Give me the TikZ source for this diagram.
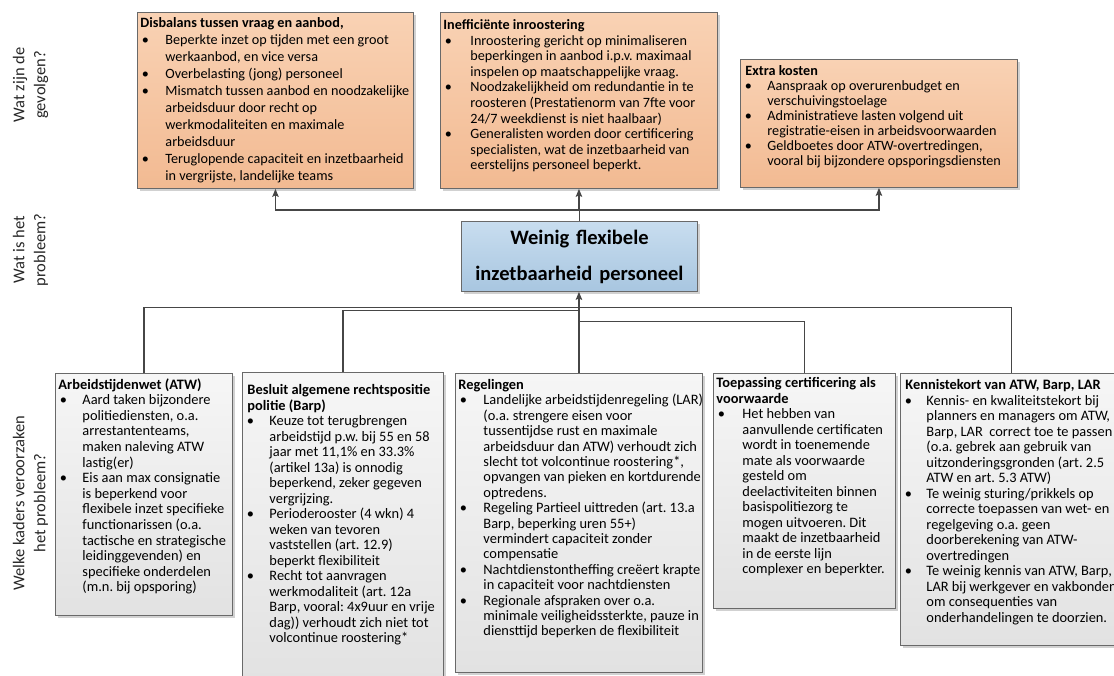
\documentclass[tikz,border=0pt]{standalone}
\usepackage{fontspec}
\setmainfont{Carlito}
\usetikzlibrary{arrows.meta,shadows}
\definecolor{orT}{RGB}{249,210,180}
\definecolor{orB}{RGB}{242,186,146}
\definecolor{blT}{RGB}{200,221,239}
\definecolor{blB}{RGB}{168,198,224}
\definecolor{grT}{RGB}{246,246,246}
\definecolor{grB}{RGB}{226,226,226}
\definecolor{boxline}{RGB}{105,105,105}
\definecolor{connc}{RGB}{70,70,70}
\newlength\bh
\newcommand\nwl{\newline}
\newcommand\boxtxt[4]{\parbox[c][#2][t]{#1}{#3\frenchspacing\hyphenpenalty=10000\exhyphenpenalty=10000\parindent=0pt\leftskip=0pt\rightskip=-10pt plus 1fil\relax #4}}
\newcommand\bitem[1]{\par\hangindent=\bh\hangafter=1\noindent\makebox[\bh][l]{\hspace{1.5pt}\textbullet}#1\par}
\tikzset{
  box/.style={draw=boxline, line width=0.9pt, anchor=north west, inner xsep=3pt, inner ysep=3pt,
    drop shadow={shadow xshift=2.5pt, shadow yshift=-2.5pt, fill=black!40, opacity=0.45}},
  topbox/.style={box, top color=orT, bottom color=orB},
  botbox/.style={box, top color=grT, bottom color=grB},
  probbox/.style={box, top color=blT, bottom color=blB, minimum width=236pt, minimum height=70pt,
    text width=230pt, align=center, font=\fontsize{20.5}{36}\selectfont\bfseries\frenchspacing},
  conn/.style={draw=connc, line width=1.1pt},
  arr/.style={conn, -{Stealth[length=8pt,width=6.5pt,inset=1.5pt]}},
  sidelabel/.style={rotate=90, align=center, font=\fontsize{16.5}{21}\selectfont, text=black!85},
}
\begin{document}
\begin{tikzpicture}[x=1pt,y=-1pt]
\useasboundingbox (0,0) rectangle (1114,675);

% side labels
\node[sidelabel] (l1) at (30.5,85) {Wat zijn de\\gevolgen?};
\node[sidelabel] (l2) at (30.5,250) {Wat is het\\probleem?};
\node[sidelabel] (l3) at (30.5,503) {Welke kaders veroorzaken\\het probleem?};

% top boxes
\node[topbox] (t1) at (137,12) {\boxtxt{270pt}{170pt}{\fontsize{14.2}{17}\selectfont\setlength\bh{25pt}}{%
\vspace*{2pt}\textbf{Disbalans tussen vraag en aanbod,}\par
\bitem{Beperkte inzet op tijden met een groot\nwl werkaanbod, en vice versa}
\bitem{Overbelasting (jong) personeel}
\bitem{Mismatch tussen aanbod en noodzakelijke\nwl arbeidsduur door recht op\nwl werkmodaliteiten en maximale\nwl arbeidsduur}
\bitem{Teruglopende capaciteit en inzetbaarheid\nwl in vergrijste, landelijke teams}}};

\node[topbox] (t2) at (440,12) {\boxtxt{271pt}{170pt}{\fontsize{14.2}{15.6}\selectfont\setlength\bh{27pt}}{%
\vspace*{4pt}\textbf{Inefficiënte inroostering}\par
\bitem{Inroostering gericht op minimaliseren\nwl beperkingen in aanbod i.p.v. maximaal\nwl inspelen op maatschappelijke vraag.}
\bitem{Noodzakelijkheid om redundantie in te\nwl roosteren (Prestatienorm van 7fte voor\nwl 24/7 weekdienst is niet haalbaar)}
\bitem{Generalisten worden door certificering\nwl specialisten, wat de inzetbaarheid van\nwl eerstelijns personeel beperkt.}}};

\node[topbox] (t3) at (740,59) {\boxtxt{271pt}{122pt}{\fontsize{14.2}{15}\selectfont\setlength\bh{24pt}}{%
\vspace*{3pt}\hspace*{2pt}\textbf{Extra kosten}\par
\bitem{Aanspraak op overurenbudget en\nwl verschuivingstoelage}
\bitem{Administratieve lasten volgend uit\nwl registratie-eisen in arbeidsvoorwaarden}
\bitem{Geldboetes door ATW-overtredingen,\nwl vooral bij bijzondere opsporingsdiensten}}};

% central problem
\node[probbox] (c) at (461,221) {Weinig flexibele\\inzetbaarheid personeel};

% bottom boxes
\node[botbox] (b1) at (55,373) {\boxtxt{171pt}{236pt}{\fontsize{14.4}{15.6}\selectfont\setlength\bh{24pt}}{%
\vspace*{2pt}\textbf{Arbeidstijdenwet (ATW)}\par
\bitem{Aard taken bijzondere\nwl politiediensten, o.a.\nwl arrestantenteams,\nwl maken naleving ATW\nwl lastig(er)}
\bitem{Eis aan max consignatie\nwl is beperkend voor\nwl flexibele inzet specifieke\nwl functionarissen (o.a.\nwl tactische en strategische\nwl leidinggevenden) en\nwl specifieke onderdelen\nwl (m.n. bij opsporing)}}};

\node[botbox] (b2) at (242,372) {\boxtxt{195pt}{302pt}{\fontsize{14.4}{15.5}\selectfont\setlength\bh{24pt}}{%
\vspace*{9pt}\hspace*{2pt}\textbf{Besluit algemene rechtspositie}\par\hspace*{2pt}\textbf{politie (Barp)}\par
\bitem{Keuze tot terugbrengen\nwl arbeidstijd p.w. bij 55 en 58\nwl jaar met 11,1\% en 33.3\%\nwl (artikel 13a) is onnodig\nwl beperkend, zeker gegeven\nwl vergrijzing.}
\bitem{Perioderooster (4 wkn) 4\nwl weken van tevoren\nwl vaststellen (art. 12.9)\nwl beperkt flexibiliteit}
\bitem{Recht tot aanvragen\nwl werkmodaliteit (art. 12a\nwl Barp, vooral: 4x9uur en vrije\nwl dag)) verhoudt zich niet tot\nwl volcontinue roostering*}}};

\node[botbox] (b3) at (455,373) {\boxtxt{241pt}{293pt}{\fontsize{14.4}{15.4}\selectfont\setlength\bh{25pt}}{%
\vspace*{3pt}\textbf{Regelingen}\par
\bitem{Landelijke arbeidstijdenregeling (LAR)\nwl (o.a. strengere eisen voor\nwl tussentijdse rust en maximale\nwl arbeidsduur dan ATW) verhoudt zich\nwl slecht tot volcontinue roostering*,\nwl opvangen van pieken en kortdurende\nwl optredens.}
\bitem{Regeling Partieel uittreden (art. 13.a\nwl Barp, beperking uren 55+)\nwl vermindert capaciteit zonder\nwl compensatie}
\bitem{Nachtdienstontheffing creëert krapte\nwl in capaciteit voor nachtdiensten}
\bitem{Regionale afspraken over o.a.\nwl minimale veiligheidssterkte, pauze in\nwl diensttijd beperken de flexibiliteit}}};

\node[botbox] (b4) at (713,373) {\boxtxt{176pt}{229pt}{\fontsize{14.4}{15.5}\selectfont\setlength\bh{26pt}}{%
\vspace*{1pt}\textbf{Toepassing certificering als}\par\textbf{voorwaarde}\par
\bitem{Het hebben van\nwl aanvullende certificaten\nwl wordt in toenemende\nwl mate als voorwaarde\nwl gesteld om\nwl deelactiviteiten binnen\nwl basispolitiezorg te\nwl mogen uitvoeren. Dit\nwl maakt de inzetbaarheid\nwl in de eerste lijn\nwl complexer en beperkter.}}};

\node[botbox] (b5) at (900,373) {\boxtxt{216pt}{266pt}{\fontsize{14.4}{15.5}\selectfont\setlength\bh{23pt}}{%
\vspace*{3pt}\hspace*{2pt}\textbf{Kennistekort van ATW, Barp, LAR}\par
\bitem{Kennis- en kwaliteitstekort bij\nwl planners en managers om ATW,\nwl Barp, LAR\ \ correct toe te passen\nwl (o.a. gebrek aan gebruik van\nwl uitzonderingsgronden (art. 2.5\nwl ATW en art. 5.3 ATW)}
\bitem{Te weinig sturing/prikkels op\nwl correcte toepassen van wet- en\nwl regelgeving o.a. geen\nwl doorberekening van ATW-\nwl overtredingen}
\bitem{Te weinig kennis van ATW, Barp,\nwl LAR bij werkgever en vakbonden\nwl om consequenties van\nwl onderhandelingen te doorzien.}}};

% connectors: problem -> consequences
\path (c.north) ++(0,-11) coordinate (jt);
\draw[conn] (c.north) -- (jt);
\draw[arr] (jt) -- (jt -| t2.south) -- (t2.south);
\draw[arr] (jt) -| (t1.south);
\draw[arr] (jt) -| (t3.south);

% connectors: causes -> problem
\path (c.south) ++(0,16) coordinate (jb1);
\path (c.south) ++(0,18.5) coordinate (jb2);
\path (c.south) ++(0,30) coordinate (jb3);
\draw[conn] (b1.north) |- (jb1);
\draw[conn] (b5.north) |- (jb1);
\draw[conn] (b2.north) |- (jb2);
\draw[conn] (b4.north) |- (jb3);
\draw[arr] (b3.north) -- (b3.north |- c.south);
\end{tikzpicture}
\end{document}
